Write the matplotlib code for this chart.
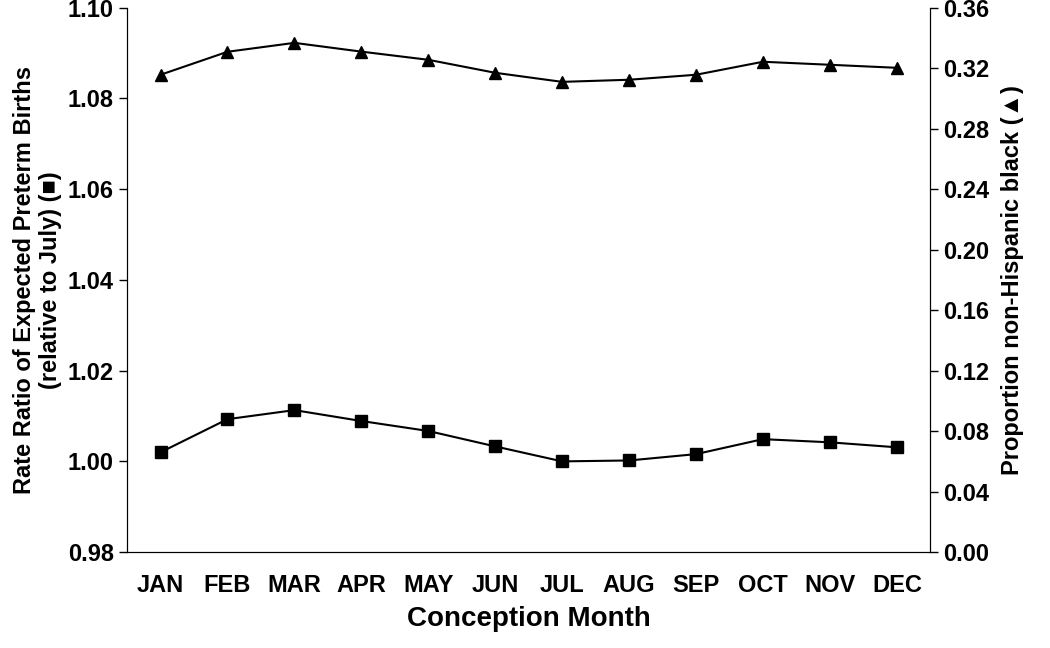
import matplotlib
matplotlib.use('Agg')
import matplotlib.pyplot as plt

months = ['JAN', 'FEB', 'MAR', 'APR', 'MAY', 'JUN', 'JUL', 'AUG', 'SEP', 'OCT', 'NOV', 'DEC']
rate_ratio = [1.002, 1.0093, 1.0113, 1.0089, 1.0067, 1.0033, 1.000, 1.0002, 1.0016, 1.0049, 1.0042, 1.0031]
prop_black = [0.3157, 0.3309, 0.3368, 0.331, 0.3256, 0.317, 0.311, 0.3124, 0.3157, 0.3243, 0.3223, 0.3203]

plt.rcParams['font.family'] = ['Liberation Sans', 'DejaVu Sans']
plt.rcParams['font.weight'] = 'bold'

fig = plt.figure(figsize=(10.5, 6.48), dpi=100)
ax = fig.add_axes([0.121, 0.148, 0.765, 0.84])
x = list(range(len(months)))
ax.plot(x, rate_ratio, color='black', marker='s', markersize=8, linewidth=1.5)
ax.set_xlim(-0.5, 11.5)
ax.set_ylim(0.98, 1.10)
ax.set_yticks([0.98, 1.00, 1.02, 1.04, 1.06, 1.08, 1.10])
ax.set_yticklabels([f'{v:.2f}' for v in ax.get_yticks()], fontsize=17, fontweight='bold')
ax.set_xticks(x)
ax.set_xticklabels(months, fontsize=17, fontweight='bold')
ax.tick_params(axis='x', length=0, pad=16)
ax.tick_params(axis='y', direction='out', length=6, width=1)
ax.set_xlabel('Conception Month', fontsize=20, fontweight='bold', labelpad=6)
ax.set_ylabel('Rate Ratio of Expected Preterm Births\n(relative to July) (\u25a0)', fontsize=17,
              fontweight='bold', labelpad=4)
ax.spines['top'].set_visible(False)

ax2 = ax.twinx()
ax2.plot(x, prop_black, color='black', marker='^', markersize=9, linewidth=1.5)
ax2.set_ylim(0, 0.36)
ticks2 = [0.0, 0.04, 0.08, 0.12, 0.16, 0.20, 0.24, 0.28, 0.32, 0.36]
ax2.set_yticks(ticks2)
ax2.set_yticklabels([f'{v:.2f}' for v in ticks2], fontsize=17, fontweight='bold')
ax2.tick_params(axis='y', direction='out', length=6, width=1)
ax2.set_ylabel('Proportion non-Hispanic black (\u25b2)', fontsize=17, fontweight='bold', labelpad=8)
ax2.spines['top'].set_visible(False)

fig.savefig('out.png', dpi=100)
